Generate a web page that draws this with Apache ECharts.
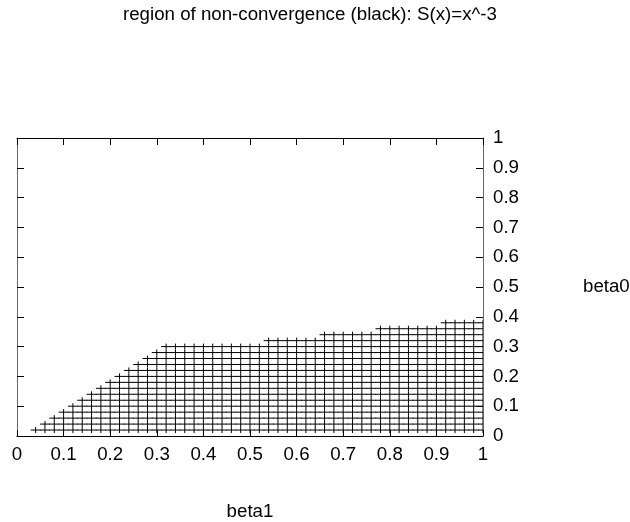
<!DOCTYPE html>
<html>
<head>
<meta charset="utf-8">
<script src="https://cdn.jsdelivr.net/npm/echarts@6/dist/echarts.min.js"></script>
<style>
html,body{margin:0;padding:0;background:#fff;}
#chart{width:630px;height:522px;}
</style>
</head>
<body>
<div id="chart"></div>
<script>
// beta1 columns of the grid
const beta1Columns = [0.04,0.06,0.08,0.10,0.12,0.14,0.16,0.18,0.20,0.22,0.24,0.26,0.28,0.30,0.32,
  0.34,0.36,0.38,0.40,0.42,0.44,0.46,0.48,0.50,0.52,
  0.54,0.56,0.58,0.60,0.62,0.64,
  0.66,0.68,0.70,0.72,0.74,0.76,
  0.78,0.80,0.82,0.84,0.86,0.88,0.90,
  0.92,0.94,0.96,0.98,1.00];
// highest beta0 of non-convergence for each column
const beta0Tops = [0.02,0.04,0.06,0.08,0.10,0.12,0.14,0.16,0.18,0.20,0.22,0.24,0.26,0.28,0.30,
  0.30,0.30,0.30,0.30,0.30,0.30,0.30,0.30,0.30,0.30,
  0.32,0.32,0.32,0.32,0.32,0.32,
  0.34,0.34,0.34,0.34,0.34,0.34,
  0.36,0.36,0.36,0.36,0.36,0.36,0.36,
  0.38,0.38,0.38,0.38,0.38];
// beta0 rows of the grid
const beta0Rows = [0.02,0.04,0.06,0.08,0.10,0.12,0.14,0.16,0.18,0.20,0.22,0.24,0.26,0.28,0.30,0.32,0.34,0.36,0.38];
const tickLabels = ['0','0.1','0.2','0.3','0.4','0.5','0.6','0.7','0.8','0.9','1'];

const points = [];
beta1Columns.forEach(function(x, i){
  beta0Rows.forEach(function(y){
    if (Math.round(y*100) <= Math.round(beta0Tops[i]*100)) points.push([x, y]);
  });
});

const FONT = 'Liberation Sans, Arial, sans-serif';
const FS = 18.7;
const chart = echarts.init(document.getElementById('chart'), null, {renderer:'canvas'});
chart.setOption({
  animation:false,
  backgroundColor:'#fff',
  title:{
    text:'region of non-convergence (black): S(x)=x^-3',
    left:118, top:0,
    textStyle:{fontFamily:FONT, fontSize:FS, fontWeight:'normal', color:'#000'}
  },
  grid:{left:17, right:147, top:138, bottom:86, containLabel:false, outerBoundsMode:'none'},
  xAxis:[{
    type:'value', min:0, max:1, interval:0.1, position:'bottom',
    name:'beta1', nameLocation:'middle', nameGap:66,
    nameTextStyle:{fontFamily:FONT, fontSize:FS, color:'#000'},
    axisLine:{show:true, onZero:false, lineStyle:{color:'#000', width:1}},
    axisTick:{show:true, inside:true, length:6, lineStyle:{color:'#000'}},
    axisLabel:{show:true, margin:9, fontFamily:FONT, fontSize:FS, color:'#000',
      formatter:function(v){ return tickLabels[Math.round(v*10)]; }},
    splitLine:{show:false}
  },{
    type:'value', min:0, max:1, interval:0.1, position:'top',
    axisLine:{show:true, onZero:false, lineStyle:{color:'#000', width:1}},
    axisTick:{show:true, inside:true, length:7, lineStyle:{color:'#000'}},
    axisLabel:{show:false}, splitLine:{show:false}
  }],
  yAxis:[{
    type:'value', min:0, max:1, interval:0.1, position:'right',
    name:'beta0', nameLocation:'middle', nameGap:100, nameRotate:0,
    nameTextStyle:{fontFamily:FONT, fontSize:FS, color:'#000', align:'left'},
    axisLine:{show:true, onZero:false, lineStyle:{color:'#666', width:1}},
    axisTick:{show:true, inside:true, length:7, lineStyle:{color:'#000'}},
    axisLabel:{show:true, margin:10, fontFamily:FONT, fontSize:FS, color:'#000',
      formatter:function(v){ return tickLabels[Math.round(v*10)]; }},
    splitLine:{show:false}
  },{
    type:'value', min:0, max:1, interval:0.1, position:'left',
    axisLine:{show:true, onZero:false, lineStyle:{color:'#666', width:1}},
    axisTick:{show:true, inside:true, length:7, lineStyle:{color:'#000'}},
    axisLabel:{show:false}, splitLine:{show:false}
  }],
  series:[{
    type:'custom',
    coordinateSystem:'cartesian2d',
    xAxisIndex:0, yAxisIndex:0,
    clip:true,
    data:points,
    renderItem:function(params, api){
      const p = api.coord([api.value(0), api.value(1)]);
      return {type:'group', children:[
        {type:'line', shape:{x1:p[0]-5, y1:p[1], x2:p[0]+5, y2:p[1]}, style:{stroke:'#000', lineWidth:1}},
        {type:'line', shape:{x1:p[0], y1:p[1]-3, x2:p[0], y2:p[1]+3}, style:{stroke:'#000', lineWidth:1}}
      ]};
    }
  }]
});
</script>
</body>
</html>
